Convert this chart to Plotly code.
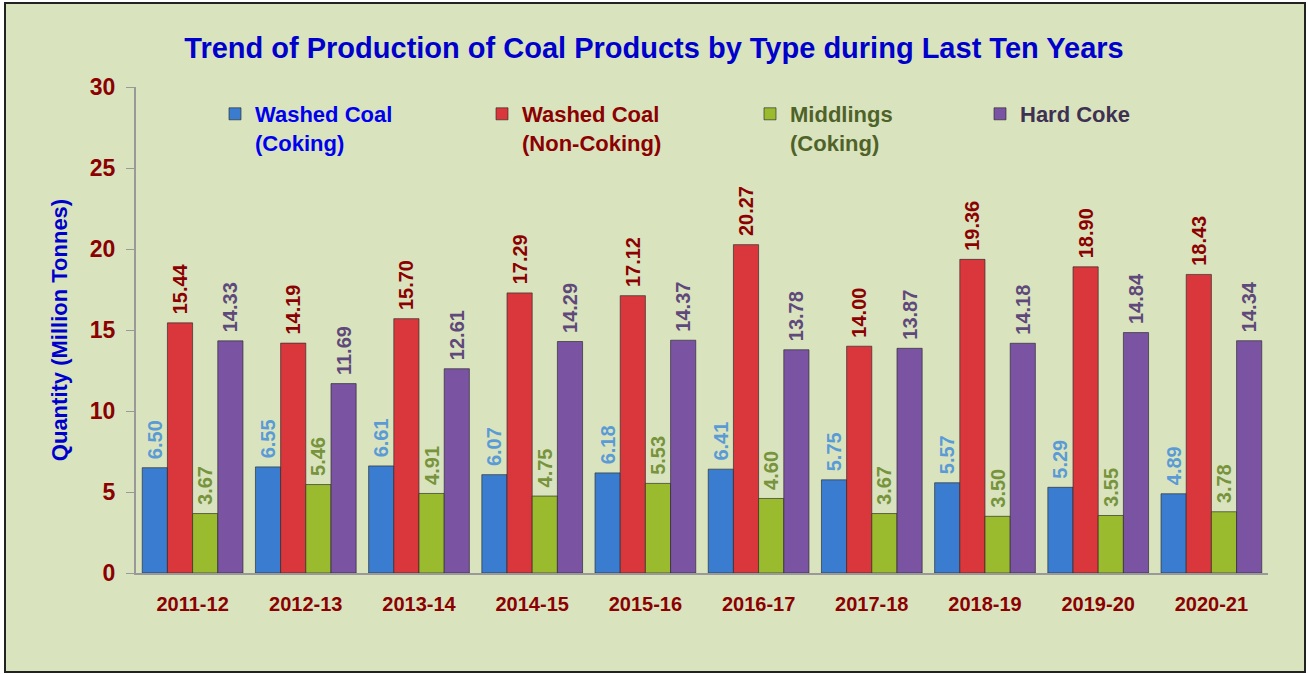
import plotly.graph_objects as go

years = ["2011-12", "2012-13", "2013-14", "2014-15", "2015-16",
         "2016-17", "2017-18", "2018-19", "2019-20", "2020-21"]
washed_coking = [6.50, 6.55, 6.61, 6.07, 6.18, 6.41, 5.75, 5.57, 5.29, 4.89]
washed_noncoking = [15.44, 14.19, 15.70, 17.29, 17.12, 20.27, 14.00, 19.36, 18.90, 18.43]
middlings = [3.67, 5.46, 4.91, 4.75, 5.53, 4.60, 3.67, 3.50, 3.55, 3.78]
hard_coke = [14.33, 11.69, 12.61, 14.29, 14.37, 13.78, 13.87, 14.18, 14.84, 14.34]
y_ticks = [0, 5, 10, 15, 20, 25, 30]

FONT2 = "Liberation Sans, Arial, sans-serif"

W, H = 1308, 674
L, R, T, B = 136, 40, 87, 101
PW, PH = W - L - R, H - T - B


def px_x(p):
    return (p - L) / PW


def px_y(p):
    return (H - B - p) / PH


series = [
    ("Washed Coal<br>(Coking)", washed_coking, "#3A7DD0", "#5B9BD5", "#0000EE", "legend", 215),
    ("Washed Coal<br>(Non-Coking)", washed_noncoking, "#D9373C", "#8B0000", "#8B0000", "legend2", 482),
    ("Middlings<br>(Coking)", middlings, "#9BBB2F", "#77933C", "#4F6228", "legend3", 750),
    ("Hard Coke", hard_coke, "#7B53A3", "#5F497A", "#3F3151", "legend4", 980),
]

fig = go.Figure()
legends = {}
for name, vals, col, tcol, lcol, leg, lx in series:
    fig.add_trace(go.Bar(
        x=years, y=vals, name=name, legend=leg,
        marker=dict(color=col, line=dict(color="rgba(40,40,40,0.65)", width=1)),
        texttemplate=" %{y:.2f}", textposition="outside", textangle=-90,
        constraintext="none",
        textfont=dict(family=FONT2, size=20, color=tcol, weight="bold"),
        cliponaxis=False,
    ))
    legends[leg] = dict(x=px_x(lx), y=px_y(93), xanchor="left", yanchor="top",
                        orientation="v", bgcolor="rgba(0,0,0,0)", valign="top",
                        font=dict(family=FONT2, size=22, color=lcol, weight="bold"))

fig.update_layout(
    width=W, height=H,
    margin=dict(l=L, r=R, t=T, b=B),
    paper_bgcolor="white", plot_bgcolor="rgba(0,0,0,0)",
    barmode="group", bargap=0.11, bargroupgap=0.0,
    font=dict(family=FONT2),
    title=dict(text="<b>Trend of Production of Coal Products by Type during Last Ten Years</b>",
               x=0.5, xref="container", y=1 - 48 / H, yref="container", yanchor="middle",
               font=dict(family=FONT2, size=29, color="#0000CC")),
    showlegend=True,
    xaxis=dict(type="category", showline=True, linecolor="#999999", linewidth=2, ticks="",
               ticklabelstandoff=12,
               tickfont=dict(family=FONT2, size=20, color="#8B0000", weight="bold"),
               showgrid=False),
    yaxis=dict(range=[0, 30], tickvals=y_ticks, showline=True, linecolor="#999999", linewidth=2,
               ticks="outside", ticklen=8, tickcolor="#999999", showgrid=False, zeroline=False,
               ticklabelstandoff=6,
               tickfont=dict(family=FONT2, size=23, color="#8B0000", weight="bold"),
               title=dict(text="Quantity (Million Tonnes)", standoff=16,
                          font=dict(family=FONT2, size=22, color="#0000CC", weight="bold"))),
    shapes=[dict(type="rect", xref="paper", yref="paper",
                 x0=px_x(5), x1=px_x(1305), y0=px_y(672), y1=px_y(3),
                 fillcolor="#D9E4BF", line=dict(color="#222222", width=2), layer="below")],
    **legends,
)

fig.write_html("out.html", config={"displayModeBar": False},
               post_script="document.body.style.margin='0';")
